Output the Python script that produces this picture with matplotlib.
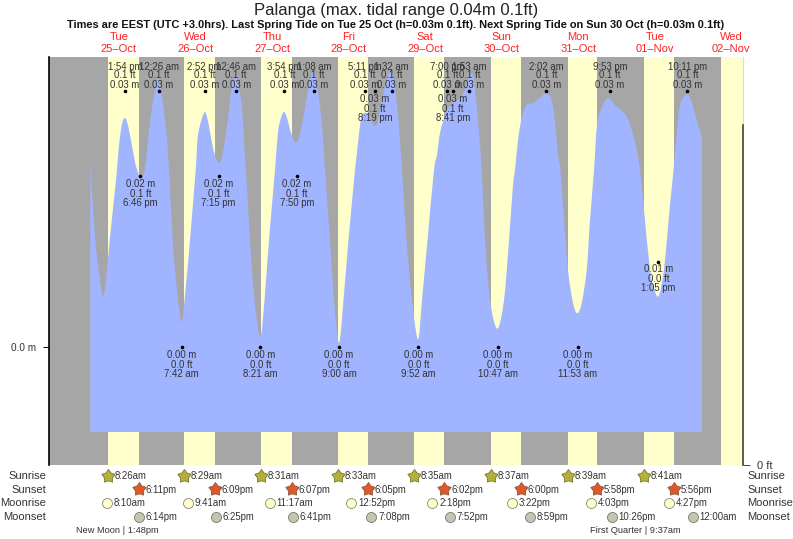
import matplotlib
matplotlib.use('Agg')
import matplotlib.pyplot as plt
from matplotlib.path import Path
from matplotlib.patches import PathPatch
import numpy as np

plt.rcParams['font.family'] = ['Liberation Sans', 'DejaVu Sans']

# hours counted from 25-Oct 00:00 local time
tide_hours = [3.04, 3.17, 4.51, 6.08, 7.02, 7.96, 9.22, 11.10, 12.04, 12.98, 13.82, 14.55, 15.49,
              17.05, 17.99, 18.93, 20.19, 21.76, 23.32, 24.26, 25.42, 26.99, 27.71, 28.87, 30.22, 31.69,
              32.88, 34.29, 36.08, 36.80, 38.68, 39.62, 40.56, 41.50, 42.44, 43.38, 44.33, 45.80, 47.37,
              48.62, 49.34, 50.50, 51.22, 51.85, 53.10, 54.51, 56.33, 57.65, 59.06, 60.94, 61.88, 62.82,
              63.76, 64.70, 66.18, 67.74, 69.31, 70.88, 71.91, 72.85, 73.79, 75.58, 76.61, 78.18, 79.43,
              81.00, 82.41, 83.98, 86.02, 86.55, 87.59, 88.21, 89.15, 90.41, 91.35, 92.29, 93.23, 94.49,
              96.05, 97.21, 98.25, 99.59, 100.75, 102.16, 103.89, 105.77, 107.02, 108.75, 110.79, 111.72,
              112.67, 114.55, 116.43, 118.31, 120.19, 121.44, 122.38, 123.32, 124.58, 125.74, 126.77,
              128.34, 130.63, 132.73, 134.30, 135.55, 136.18, 137.12, 138.28, 139.85, 141.82, 144.02,
              145.90, 147.68, 148.72, 149.66, 150.44, 151.54, 152.79, 154.36, 155.71, 157.09, 158.65,
              159.69, 160.95, 161.88, 163.36, 165.33, 167.53, 170.67, 172.23, 173.80, 175.37, 176.62,
              178.50, 179.76, 180.92, 181.95, 183.21, 184.46, 185.71, 186.87, 187.91, 190.00, 191.57,
              193.13, 194.79]
tide_mm = [21.68, 20.74, 12.89, 7.85, 5.86, 7.85, 12.89, 19.57, 23.67, 26.13, 26.84, 26.37, 24.84,
           21.68, 20.51, 19.80, 20.98, 26.37, 30.12, 31.52, 29.53, 24.84, 20.74, 12.54, 6.68, 2.96,
           6.68, 12.54, 20.74, 24.84, 27.42, 26.95, 25.23, 23.32, 22.15, 21.60, 22.27, 25.66, 30.35,
           31.76, 30.70, 28.36, 24.02, 20.74, 12.54, 5.51, 1.21, 5.51, 12.54, 20.74, 25.20, 26.84,
           27.54, 26.84, 24.84, 23.94, 25.90, 29.18, 31.29, 32.23, 31.52, 26.40, 20.74, 12.54, 5.51,
           0.50, 5.51, 12.54, 20.74, 22.50, 26.02, 27.07, 27.46, 27.19, 26.37, 25.90, 26.60, 28.95,
           31.52, 32.23, 31.29, 26.84, 20.74, 12.54, 5.51, 0.90, 5.51, 12.54, 20.74, 22.50,
           25.08, 27.54, 28.59, 28.95, 29.88, 31.29, 31.99, 31.29, 26.60, 20.74, 12.54,
           5.51, 2.14, 5.51, 12.54, 18.98, 20.74, 24.26, 26.84, 28.36, 28.59, 29.18,
           29.77, 28.95, 26.37, 22.50, 20.74, 14.88, 9.02, 5.16, 3.95, 5.16, 9.02,
           14.88, 20.74, 26.02, 28.01, 29.18, 28.36, 27.31, 26.02, 24.02, 20.74, 16.05,
           9.02, 6.91, 5.89, 6.91, 10.20, 15.47, 20.16, 24.84, 28.36, 29.65, 28.71,
           26.60, 24.61]
tide_floor = -0.00996

# day index: 0 = 25-Oct
high_days = [0, 1, 1, 2, 2, 3, 3, 4, 4, 5, 6, 6, 7]
high_times = ['1:54 pm', '12:26 am', '2:52 pm', '12:46 am', '3:54 pm', '1:08 am', '5:11 pm',
              '1:32 am', '7:00 pm', '1:53 am', '2:02 am', '9:53 pm', '10:11 pm']
high_m = [0.03] * 13
high_ft = [0.1] * 13

low_days = [0, 1, 2, 3, 4, 1, 2, 3, 4, 5, 6, 7]
low_times = ['6:46 pm', '7:15 pm', '7:50 pm', '8:19 pm', '8:41 pm', '7:42 am', '8:21 am',
             '9:00 am', '9:52 am', '10:47 am', '11:53 am', '1:05 pm']
low_m = [0.02, 0.02, 0.02, 0.03, 0.03, 0.00, 0.00, 0.00, 0.00, 0.00, 0.00, 0.01]
low_ft = [0.1, 0.1, 0.1, 0.1, 0.1, 0.0, 0.0, 0.0, 0.0, 0.0, 0.0, 0.0]

weekdays = ['Tue', 'Wed', 'Thu', 'Fri', 'Sat', 'Sun', 'Mon', 'Tue', 'Wed']
dates = ['25-Oct', '26-Oct', '27-Oct', '28-Oct', '29-Oct', '30-Oct', '31-Oct', '01-Nov', '02-Nov']

sunrise = ['8:26am', '8:29am', '8:31am', '8:33am', '8:35am', '8:37am', '8:39am', '8:41am']
sunset = ['6:11pm', '6:09pm', '6:07pm', '6:05pm', '6:02pm', '6:00pm', '5:58pm', '5:56pm']
moonrise = ['8:10am', '9:41am', '11:17am', '12:52pm', '2:18pm', '3:22pm', '4:03pm', '4:27pm']
moonset = ['6:14pm', '6:25pm', '6:41pm', '7:08pm', '7:52pm', '8:59pm', '10:26pm', '12:00am']
moonset_days = [0, 1, 2, 3, 4, 5, 6, 8]
next_sunrise = '8:43am'

title = 'Palanga (max. tidal range 0.04m 0.1ft)'
subtitle = ('Times are EEST (UTC +3.0hrs). Last Spring Tide on Tue 25 Oct (h=0.03m 0.1ft). '
            'Next Spring Tide on Sun 30 Oct (h=0.03m 0.1ft)')

GREY = '#a6a6a6'
YELLOW = '#ffffcc'
BLUE = '#a0b4ff'
TEXT = '#333333'


def to_hours(day, label):
    # '1:54 pm' -> hours since 25-Oct 00:00
    clock = label.replace(' ', '')
    hh, mm = clock[:-2].split(':')
    hour = int(hh) % 12 + int(mm) / 60
    if clock.endswith('pm'):
        hour += 12
    return day * 24 + hour


def tide_path(hours, heights, floor):
    # smooth outline through the read points (Catmull-Rom as bezier), closed along the floor
    p = np.column_stack([hours, heights])
    verts = [(p[0, 0], floor), p[0]]
    codes = [Path.MOVETO, Path.LINETO]
    for i in range(len(p) - 1):
        before = p[max(i - 1, 0)]
        after = p[min(i + 2, len(p) - 1)]
        verts += [p[i] + (p[i + 1] - before) / 6, p[i + 1] - (after - p[i]) / 6, p[i + 1]]
        codes += [Path.CURVE4] * 3
    verts += [(p[-1, 0], floor), (p[0, 0], floor)]
    codes += [Path.LINETO, Path.CLOSEPOLY]
    return Path(verts, codes)


fig = plt.figure(figsize=(7.93, 5.39), dpi=100)
ax = fig.add_axes([49 / 793, (539 - 465) / 539, 694 / 793, 408 / 539])
ax.set_facecolor(YELLOW)
ax.set_xlim(-9.906, 207.65)
ax.set_ylim(-0.01383, 0.03399)


def row_y(py):
    # screen row to axes fraction, for the text outside the plot
    return (465 - py) / 408


# night bands
rise_hours = [to_hours(i, s) for i, s in enumerate(sunrise)] + [to_hours(8, next_sunrise)]
set_hours = [to_hours(i, s) for i, s in enumerate(sunset)]
ax.axvspan(-9.906, rise_hours[0], color=GREY, lw=0)
for i in range(8):
    ax.axvspan(set_hours[i], rise_hours[i + 1], color=GREY, lw=0)

# tide
ax.add_patch(PathPatch(tide_path(tide_hours, np.array(tide_mm) / 1000, tide_floor), fc=BLUE, lw=0))

# high and low tide labels
fs = 6.9
for d, t, m, ft in zip(high_days, high_times, high_m, high_ft):
    x = to_hours(d, t)
    ax.plot(x, m, 'o', color='black', ms=2.6, mew=0)
    for txt, off in [(f'{m:.2f} m', 6), (f'{ft:.1f} ft', 16), (t, 24.5)]:
        ax.annotate(txt, (x, m), xytext=(0, off * 0.72), textcoords='offset points',
                    ha='center', va='center', fontsize=fs, color=TEXT)
for d, t, m, ft in zip(low_days, low_times, low_m, low_ft):
    x = to_hours(d, t)
    ax.plot(x, m, 'o', color='black', ms=2.6, mew=0)
    for txt, off in [(f'{m:.2f} m', 7.5), (f'{ft:.1f} ft', 17.5), (t, 26.5)]:
        ax.annotate(txt, (x, m), xytext=(0, -off * 0.72), textcoords='offset points',
                    ha='center', va='center', fontsize=fs, color=TEXT)

# axes
for side in ['top', 'bottom']:
    ax.spines[side].set_visible(False)
ax.spines['right'].set_color('#d8d8b0')
ax.spines['right'].set_linewidth(0.6)
ax.spines['left'].set_linewidth(1.2)
ax.set_xticks([])
ax.set_yticks([0.0])
ax.set_yticklabels(['0.0 m'], fontsize=7.2, color=TEXT)
ax.tick_params(axis='y', length=4.5, width=0.7, pad=5)

ax_ft = ax.twinx()
ax_ft.set_ylim(0, 0.157)
ax_ft.set_yticks([0])
ax_ft.set_yticklabels(['0 ft'], fontsize=8, color=TEXT)
ax_ft.tick_params(axis='y', length=5, width=0.7, pad=5, color='#444444')
for side in ['top', 'bottom', 'left']:
    ax_ft.spines[side].set_visible(False)
ax_ft.spines['right'].set_bounds(0, 0.131)
ax_ft.spines['right'].set_linewidth(1.2)
ax_ft.spines['right'].set_color('#444444')

# header
fig.text(396.5 / 793, 1 - 10 / 539, title, ha='center', va='center', fontsize=12, color='#222222')
fig.text(396 / 793, 1 - 25 / 539, subtitle, ha='center', va='center', fontsize=7.9,
         fontweight='bold', color='#111111')
tr = ax.get_xaxis_transform()
for i in range(9):
    ax.text(i * 24 + 12, row_y(37.5), weekdays[i], transform=tr, ha='center', va='center',
            fontsize=8, color='#ff2020', clip_on=False)
    ax.text(i * 24 + 12, row_y(49), dates[i].replace('-', '\u2013'), transform=tr, ha='center',
            va='center', fontsize=8, color='#ff2020', clip_on=False)

# sun and moon rows
rows = [('Sunrise', 476), ('Sunset', 490), ('Moonrise', 503), ('Moonset', 517)]
for name, py in rows:
    fig.text(46 / 793, 1 - py / 539, name, ha='right', va='center', fontsize=8, color=TEXT)
    fig.text(747 / 793, 1 - py / 539, name, ha='left', va='center', fontsize=8, color=TEXT)

star = Path.unit_regular_star(5, innerCircle=0.62)


def draw_row(days, labels, py, marker, size, face, edge):
    for d, lab in zip(days, labels):
        x = to_hours(d, lab)
        ax.plot(x, row_y(py), marker=marker, ms=size, mfc=face, mec=edge, mew=0.6, transform=tr, clip_on=False)
        ax.annotate(lab, (x, row_y(py + 0.5)), xycoords=tr, xytext=(4.8, 0), textcoords='offset points',
                    ha='left', va='center', fontsize=fs, color=TEXT, annotation_clip=False)


days = list(range(8))
draw_row(days, sunrise, 475.7, star, 10, '#b5b03a', '#77772a')
draw_row(days, sunset, 489.3, star, 10, '#e0572a', '#8a5a3a')
draw_row(days, moonrise, 503, 'o', 7.2, YELLOW, '#888877')
draw_row(moonset_days, moonset, 516.7, 'o', 7.2, '#c8c4b4', '#777766')

fig.text(117.5 / 793, 1 - 530.5 / 539, 'New Moon | 1:48pm', ha='center', va='center', fontsize=6.65, color=TEXT)
fig.text(635.5 / 793, 1 - 530.5 / 539, 'First Quarter | 9:37am', ha='center', va='center', fontsize=6.7, color=TEXT)

fig.savefig('out.png', dpi=100)
